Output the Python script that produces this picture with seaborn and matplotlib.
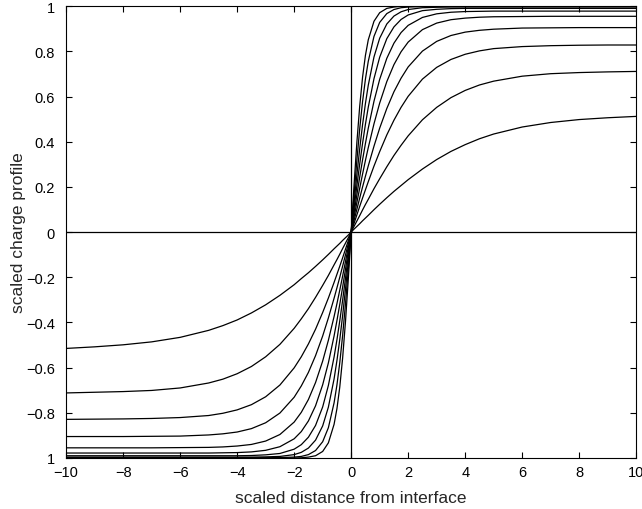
import pandas as pd
import seaborn as sns
import matplotlib
matplotlib.use("Agg")
import matplotlib.pyplot as plt

sns.set_style("ticks")
plt.rcParams["font.family"] = ["Liberation Sans", "DejaVu Sans"]

# scaled distance from interface (shared by every profile)
x_dist = [-10, -9, -8, -7, -6, -5, -4.5, -4, -3.5, -3, -2.5, -2, -1.75, -1.5, -1.25, -1, -0.8, -0.6, -0.5, -0.4, -0.3, -0.2, -0.1,
          0,
          0.1, 0.2, 0.3, 0.4, 0.5, 0.6, 0.8, 1, 1.25, 1.5, 1.75, 2, 2.5, 3, 3.5, 4, 4.5, 5, 6, 7, 8, 9, 10]

# scaled charge profiles, gentlest to steepest
profile_a = [-0.515, -0.508, -0.499, -0.486, -0.466, -0.435, -0.414, -0.389, -0.358, -0.322, -0.280, -0.233, -0.206, -0.180, -0.152, -0.123, -0.099, -0.074, -0.062, -0.050, -0.037, -0.025, -0.013,
             0,
             0.013, 0.025, 0.037, 0.050, 0.062, 0.074, 0.099, 0.123, 0.152, 0.180, 0.206, 0.232, 0.279, 0.321, 0.357, 0.387, 0.413, 0.434, 0.465, 0.485, 0.498, 0.506, 0.512]
profile_b = [-0.712, -0.709, -0.706, -0.701, -0.690, -0.668, -0.651, -0.627, -0.595, -0.552, -0.497, -0.426, -0.384, -0.339, -0.289, -0.236, -0.192, -0.145, -0.122, -0.098, -0.073, -0.049, -0.025,
             0,
             0.025, 0.049, 0.073, 0.098, 0.122, 0.145, 0.192, 0.236, 0.289, 0.339, 0.384, 0.426, 0.497, 0.552, 0.595, 0.627, 0.651, 0.668, 0.690, 0.701, 0.706, 0.709, 0.711]
profile_c = [-0.829, -0.828, -0.827, -0.825, -0.821, -0.812, -0.802, -0.787, -0.764, -0.729, -0.677, -0.601, -0.552, -0.495, -0.430, -0.356, -0.292, -0.223, -0.187, -0.151, -0.114, -0.076, -0.038,
             0,
             0.038, 0.076, 0.114, 0.151, 0.187, 0.223, 0.292, 0.356, 0.430, 0.495, 0.552, 0.601, 0.677, 0.729, 0.764, 0.787, 0.802, 0.812, 0.821, 0.825, 0.827, 0.828, 0.828]
profile_d = [-0.905, -0.905, -0.905, -0.904, -0.903, -0.898, -0.893, -0.885, -0.870, -0.844, -0.801, -0.731, -0.681, -0.621, -0.547, -0.460, -0.380, -0.293, -0.247, -0.200, -0.151, -0.101, -0.051,
             0,
             0.051, 0.101, 0.151, 0.200, 0.247, 0.293, 0.380, 0.460, 0.547, 0.621, 0.681, 0.731, 0.801, 0.844, 0.870, 0.885, 0.893, 0.898, 0.903, 0.904, 0.905, 0.905, 0.905]
profile_e = [-0.955, -0.955, -0.955, -0.955, -0.954, -0.953, -0.951, -0.947, -0.940, -0.925, -0.896, -0.841, -0.798, -0.741, -0.666, -0.571, -0.479, -0.374, -0.317, -0.257, -0.195, -0.131, -0.066,
             0,
             0.066, 0.131, 0.195, 0.257, 0.317, 0.374, 0.479, 0.571, 0.666, 0.741, 0.798, 0.841, 0.896, 0.925, 0.940, 0.947, 0.951, 0.953, 0.954, 0.955, 0.955, 0.955, 0.955]
profile_f = [-0.978, -0.978, -0.978, -0.978, -0.978, -0.978, -0.977, -0.976, -0.973, -0.966, -0.950, -0.915, -0.883, -0.836, -0.769, -0.676, -0.579, -0.460, -0.392, -0.320, -0.244, -0.165, -0.083,
             0,
             0.083, 0.165, 0.244, 0.320, 0.392, 0.460, 0.579, 0.676, 0.769, 0.836, 0.883, 0.915, 0.950, 0.966, 0.973, 0.976, 0.977, 0.978, 0.978, 0.978, 0.978, 0.978, 0.978]
profile_g = [-0.990, -0.990, -0.990, -0.990, -0.990, -0.990, -0.990, -0.990, -0.989, -0.986, -0.980, -0.961, -0.941, -0.908, -0.856, -0.774, -0.679, -0.553, -0.477, -0.393, -0.302, -0.205, -0.104,
             0,
             0.104, 0.205, 0.302, 0.393, 0.477, 0.553, 0.679, 0.774, 0.856, 0.908, 0.941, 0.961, 0.980, 0.986, 0.989, 0.990, 0.990, 0.990, 0.990, 0.990, 0.990, 0.990, 0.990]
profile_h = [-0.996, -0.996, -0.996, -0.996, -0.996, -0.996, -0.996, -0.996, -0.996, -0.995, -0.993, -0.985, -0.975, -0.956, -0.921, -0.858, -0.775, -0.650, -0.569, -0.476, -0.370, -0.253, -0.129,
             0,
             0.129, 0.253, 0.370, 0.476, 0.569, 0.650, 0.775, 0.858, 0.921, 0.956, 0.975, 0.985, 0.993, 0.995, 0.996, 0.996, 0.996, 0.996, 0.996, 0.996, 0.996, 0.996, 0.996]
profile_i = [-0.999, -0.999, -0.999, -0.999, -0.999, -0.999, -0.999, -0.999, -0.999, -0.999, -0.998, -0.996, -0.993, -0.985, -0.967, -0.928, -0.866, -0.756, -0.677, -0.578, -0.458, -0.318, -0.163,
             0,
             0.163, 0.318, 0.458, 0.578, 0.677, 0.756, 0.866, 0.928, 0.967, 0.985, 0.993, 0.996, 0.998, 0.999, 0.999, 0.999, 0.999, 0.999, 0.999, 0.999, 0.999, 0.999, 0.999]
profile_j = [-1.0, -1.0, -1.0, -1.0, -1.0, -1.0, -1.0, -1.0, -1.0, -1.0, -1.0, -1.0, -0.999, -0.996, -0.990, -0.971, -0.933, -0.851, -0.782, -0.686, -0.558, -0.397, -0.207,
             0,
             0.207, 0.397, 0.558, 0.686, 0.782, 0.851, 0.933, 0.971, 0.990, 0.996, 0.999, 1.0, 1.0, 1.0, 1.0, 1.0, 1.0, 1.0, 1.0, 1.0, 1.0, 1.0, 1.0]

profiles = [profile_a, profile_b, profile_c, profile_d, profile_e,
            profile_f, profile_g, profile_h, profile_i, profile_j]

x_ticks = [-10, -8, -6, -4, -2, 0, 2, 4, 6, 8, 10]
x_ticklabels = ["\u221210", "\u22128", "\u22126", "\u22124", "\u22122", "0", "2", "4", "6", "8", "10"]
y_ticks = [-1, -0.8, -0.6, -0.4, -0.2, 0, 0.2, 0.4, 0.6, 0.8, 1]
y_ticklabels = ["1", "\u22120.8", "\u22120.6", "\u22120.4", "\u22120.2", "0", "0.2", "0.4", "0.6", "0.8", "1"]

frames = []
for n, prof in enumerate(profiles):
    frames.append(pd.DataFrame({"x": x_dist, "y": prof, "curve": n}))
df = pd.concat(frames, ignore_index=True)

fig, ax = plt.subplots(figsize=(6.42, 5.10), dpi=100)
fig.subplots_adjust(left=0.103, right=0.991, bottom=0.100, top=0.986)

sns.lineplot(data=df, x="x", y="y", units="curve", estimator=None, color="black",
             linewidth=0.9, ax=ax, legend=False)

ax.axhline(0, color="black", linewidth=0.9)
ax.axvline(0, color="black", linewidth=0.9)

ax.set_xlim(-10, 10)
ax.set_ylim(-1, 1)
ax.set_xticks(x_ticks)
ax.set_xticklabels(x_ticklabels)
ax.set_yticks(y_ticks)
ax.set_yticklabels(y_ticklabels)
ax.tick_params(direction="in", top=True, right=True, length=4, width=0.8,
               labelsize=10.5, colors="black")
ax.tick_params(axis="y", pad=8)
ax.tick_params(axis="x", pad=5)
for side in ax.spines.values():
    side.set_color("black")
    side.set_linewidth(0.8)

ax.set_xlabel("scaled distance from interface", fontsize=12.5, labelpad=8)
ax.set_ylabel("scaled charge profile", fontsize=12.5, labelpad=0)

fig.savefig("out.png", dpi=100)
